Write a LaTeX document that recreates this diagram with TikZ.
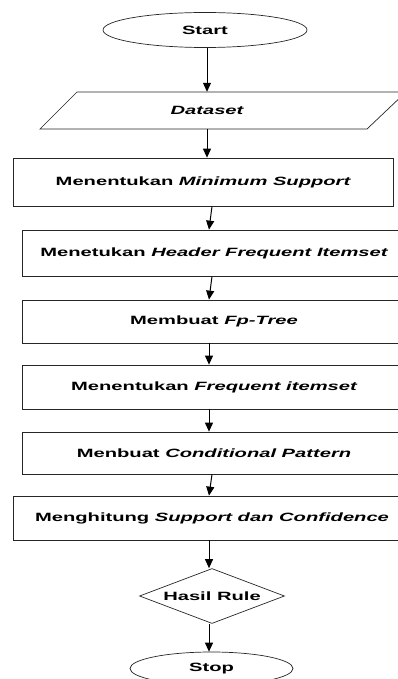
\documentclass[tikz,border=0pt]{standalone}
\usepackage{fontspec}
\setmainfont{Liberation Sans}
\usetikzlibrary{arrows.meta,shapes.geometric}
\newcommand{\widetxt}[1]{\scalebox{1.68}[1]{\bfseries #1}}
\begin{document}
\begin{tikzpicture}[x=1pt,y=-1pt,
  every node/.style={font=\fontsize{12}{14}\selectfont},
  boxnode/.style={draw=black!85, line width=0.7pt, inner sep=0pt, minimum width=384pt},
  term/.style={draw=black!85, line width=0.7pt, ellipse, inner sep=0pt},
  arr/.style={line width=1pt, -{Triangle[length=9pt,width=8pt]}}]
\useasboundingbox (0,0) rectangle (398,679);
\clip (0,0) rectangle (398,679);

\node[term, minimum width=204pt, minimum height=35pt] (start) at (205,30) {\widetxt{Start}};

\draw[draw=black!85, line width=0.7pt] (77,92) -- (406,92) -- (367,129) -- (40,129) -- cycle;
\node[minimum width=100pt, minimum height=37pt, inner sep=0pt] (data) at (207,110.5) {\widetxt{\itshape Dataset}};

\node[boxnode, minimum width=380pt, minimum height=48pt] (b1) at (203,182) {\widetxt{Menentukan \itshape Minimum Support}};
\node[boxnode, minimum height=46pt] (b2) at (214,253) {\widetxt{Menetukan \itshape Header Frequent Itemset}};
\node[boxnode, minimum height=43pt] (b3) at (214,321.5) {\widetxt{Membuat \itshape Fp-Tree}};
\node[boxnode, minimum height=44pt] (b4) at (214,387) {\widetxt{Menentukan \itshape Frequent itemset}};
\node[boxnode, minimum height=42pt] (b5) at (214,453) {\widetxt{Menbuat \itshape Conditional Pattern}};
\node[boxnode, minimum width=398pt, minimum height=44pt] (b6) at (212,518) {\widetxt{Menghitung \itshape Support dan Confidence}};

\node[draw=black!85, line width=0.7pt, diamond, aspect=2.64, inner sep=0pt, minimum width=145pt, minimum height=55pt] (rule) at (212,596) {\widetxt{Hasil Rule}};

\node[term, minimum width=163pt, minimum height=33pt] (stop) at (211.5,668.5) {\widetxt{Stop}};

\draw[arr] (start.south -| 207,0) -- (data.north -| 207,0);
\draw[arr] (data.south -| 207,0) -- (b1.north -| 207,0);
\draw[arr] (b1.south -| 212,0) -- (b2.north -| 209,0);
\draw[arr] (b2.south -| 212,0) -- (b3.north -| 209,0);
\draw[arr] (b3.south -| 209,0) -- (b4.north -| 209,0);
\draw[arr] (b4.south -| 209,0) -- (b5.north -| 209,0);
\draw[arr] (b5.south -| 212,0) -- (b6.north -| 209,0);
\draw[arr] (b6.south -| 209,0) -- (rule.north -| 209,0);
\draw[arr] (rule.south -| 209,0) -- (stop.north -| 209,0);
\end{tikzpicture}
\end{document}
